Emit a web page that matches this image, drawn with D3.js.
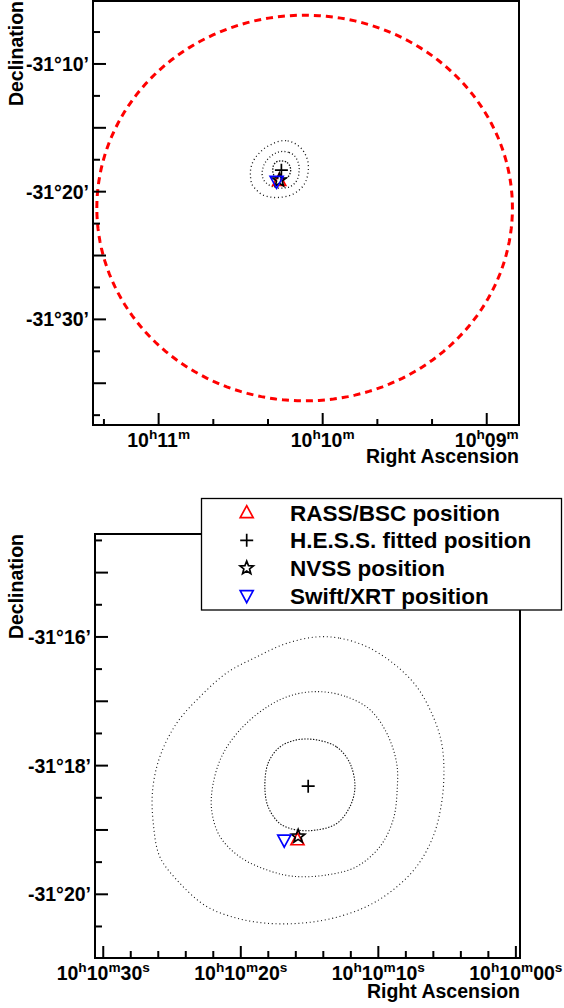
<!DOCTYPE html>
<html><head><meta charset="utf-8">
<script src="https://cdn.jsdelivr.net/npm/d3@7"></script>
<style>
body{margin:0;background:#fff}
svg{display:block}
text{font-family:"Liberation Sans",Arial,Helvetica,sans-serif;font-weight:700;fill:#000}
</style>
</head><body>
<svg id="chart" width="564" height="1008"></svg>
<script>
// ---------------- DATA ----------------
// RA in seconds after 10h00m00s, Dec in arcmin relative to -31°00'
const sourceNames = ["RASS/BSC position", "H.E.S.S. fitted position", "NVSS position", "Swift/XRT position"];
const sourceRA  = [615.88, 615.10, 615.83, 616.84];
const sourceDec = [-19.16, -18.32, -19.10, -19.15];

// significance contours (RA s, Dec arcmin)
const contourOuterRA  = [614.49, 612.79, 610.85, 608.92, 607.22, 606.01, 605.40, 605.23, 605.40, 606.01, 607.22, 608.92, 610.85, 613.28, 615.70, 618.12, 620.30, 622.48, 624.42, 625.88, 626.36, 626.41, 625.88, 624.66, 622.97, 621.03, 618.85, 616.67];
const contourOuterDec = [-16.00, -16.02, -16.15, -16.41, -16.77, -17.24, -17.65, -18.07, -18.58, -19.10, -19.57, -19.93, -20.19, -20.37, -20.45, -20.45, -20.37, -20.19, -19.83, -19.42, -18.90, -18.38, -17.86, -17.34, -16.93, -16.56, -16.31, -16.10];
const contourMiddleRA  = [614.25, 612.31, 610.61, 609.40, 608.67, 608.63, 608.92, 609.89, 611.58, 613.76, 616.19, 618.12, 620.06, 621.52, 622.12, 622.00, 621.28, 619.82, 617.88, 616.19];
const contourMiddleDec = [-16.85, -16.93, -17.13, -17.49, -17.96, -18.38, -18.84, -19.26, -19.57, -19.70, -19.72, -19.62, -19.42, -19.10, -18.69, -18.27, -17.81, -17.39, -17.06, -16.90];
const contourInnerRA  = [614.49, 613.03, 612.07, 611.70, 612.07, 613.03, 614.49, 615.94, 617.16, 618.01, 618.25, 618.01, 617.16, 615.94];
const contourInnerDec = [-17.60, -17.71, -17.96, -18.33, -18.64, -18.90, -19.00, -19.00, -18.90, -18.64, -18.33, -17.96, -17.71, -17.60];

// error circle: centre (RA s, Dec arcmin) and radii (RA s, Dec arcmin)
const circleCenter = [606.6, -21.28];
const circleRadius = [76.0, 15.1];

// axis ranges
const topRADomain  = [684.0, 528.2];
const topDecDomain = [-5.07, -38.27];
const botRADomain  = [630.6, 599.7];
const botDecDomain = [-14.40, -20.99];

// tick values & labels
const topRAMajor = [660, 600, 540];
const topRALabels = [["10","h","11","m"], ["10","h","10","m"], ["10","h","09","m"]];
const topRAMinorStep = 20;
const topDecMajorStep = 5, topDecMinorStep = 2.5;
const topDecLabelValues = [-10, -20, -30];
const topDecLabels = ["-31°10’", "-31°20’", "-31°30’"];

const botRAMajor = [630, 620, 610, 600];
const botRALabels = [["10","h","10","m","30","s"], ["10","h","10","m","20","s"], ["10","h","10","m","10","s"], ["10","h","10","m","00","s"]];
const botRAMinorStep = 2;
const botDecMajorStep = 1, botDecMinorStep = 0.5;
const botDecLabelValues = [-16, -18, -20];
const botDecLabels = ["-31°16’", "-31°18’", "-31°20’"];

const xTitle = "Right Ascension";
const yTitle = "Declination";

// ---------------- STYLE ----------------
const markerStyle = [
  {shape: "tri",  color: "#ff0000"},
  {shape: "plus", color: "#000000"},
  {shape: "star", color: "#000000"},
  {shape: "itri", color: "#0000ff"}
];
const drawOrder = [0, 1, 2, 3];

const svg = d3.select("#chart");

function markerPath(shape) {
  const p = d3.path();
  if (shape === "tri") {
    p.moveTo(0, -7.5); p.lineTo(6.5, 4.5); p.lineTo(-6.5, 4.5); p.closePath();
  } else if (shape === "itri") {
    p.moveTo(0, 7.5); p.lineTo(6.5, -4.5); p.lineTo(-6.5, -4.5); p.closePath();
  } else if (shape === "plus") {
    p.moveTo(-6.5, 0); p.lineTo(6.5, 0); p.moveTo(0, -6.5); p.lineTo(0, 6.5);
  } else if (shape === "star") {
    for (let i = 0; i < 10; i++) {
      const r = i % 2 === 0 ? 7 : 3;
      const a = -Math.PI / 2 + i * Math.PI / 5;
      const px = r * Math.cos(a), py = r * Math.sin(a);
      if (i === 0) p.moveTo(px, py); else p.lineTo(px, py);
    }
    p.closePath();
  }
  return p.toString();
}

function drawMarker(g, x, y, idx) {
  const st = markerStyle[idx];
  g.append("path")
    .attr("d", markerPath(st.shape))
    .attr("transform", `translate(${x},${y})`)
    .attr("fill", "none")
    .attr("stroke", st.color)
    .attr("stroke-width", 1.7)
    .attr("stroke-linejoin", "miter");
}

function superLabel(g, x, y, parts, size, anchor) {
  const t = g.append("text").attr("x", x).attr("y", y)
    .attr("text-anchor", anchor).attr("font-size", size);
  let up = false;
  parts.forEach((s, i) => {
    const isSup = i % 2 === 1;
    const ts = t.append("tspan").text(s);
    if (isSup) { ts.attr("font-size", size * 0.7).attr("dy", -size * 0.42); up = true; }
    else if (up) { ts.attr("dy", size * 0.42); up = false; }
  });
  return t;
}

function panel(opts) {
  const {x0, x1, y0, y1, raDomain, decDomain, raMajor, raLabels, raMinorStep,
         decMajorStep, decMinorStep, decLabelValues, decLabels, xLabelY, xTitleY,
         majorLenX, minorLenX, majorLenY, minorLenY, id, contourWidth} = opts;
  const x = d3.scaleLinear().domain(raDomain).range([x0, x1]);
  const y = d3.scaleLinear().domain(decDomain).range([y0, y1]);
  const g = svg.append("g");

  g.append("clipPath").attr("id", id).append("rect")
    .attr("x", x0).attr("y", y0).attr("width", x1 - x0).attr("height", y1 - y0);
  const plot = g.append("g").attr("clip-path", `url(#${id})`);

  // contours
  const line = d3.line().x(d => x(d[0])).y(d => y(d[1])).curve(d3.curveCatmullRomClosed.alpha(0.5));
  const contours = [
    {ra: contourOuterRA, dec: contourOuterDec, dash: "1,2.8"},
    {ra: contourMiddleRA, dec: contourMiddleDec, dash: "1,2.3"},
    {ra: contourInnerRA, dec: contourInnerDec, dash: "1.4,1.5"}
  ];
  contours.forEach(c => {
    plot.append("path")
      .attr("d", line(c.ra.map((r, i) => [r, c.dec[i]])))
      .attr("fill", "none").attr("stroke", "#111").attr("stroke-width", contourWidth)
      .attr("stroke-dasharray", c.dash);
  });

  // error circle
  const circPts = d3.range(0, 360, 2).map(a => {
    const t = a * Math.PI / 180;
    return [circleCenter[0] + circleRadius[0] * Math.cos(t), circleCenter[1] + circleRadius[1] * Math.sin(t)];
  });
  plot.append("path")
    .attr("d", d3.line().x(d => x(d[0])).y(d => y(d[1])).curve(d3.curveLinearClosed)(circPts))
    .attr("fill", "none").attr("stroke", "#ff0000").attr("stroke-width", 3)
    .attr("stroke-dasharray", "7,5");

  // markers
  drawOrder.forEach(i => drawMarker(plot, x(sourceRA[i]), y(sourceDec[i]), i));

  // frame
  g.append("rect").attr("x", x0).attr("y", y0).attr("width", x1 - x0).attr("height", y1 - y0)
    .attr("fill", "none").attr("stroke", "#000").attr("stroke-width", 2);

  // x ticks
  const [raHi, raLo] = raDomain;
  const raMinor = d3.range(Math.ceil(raLo / raMinorStep) * raMinorStep, raHi + 1e-6, raMinorStep)
    .filter(v => !raMajor.some(m => Math.abs(m - v) < 1e-6));
  raMinor.forEach(v => g.append("line").attr("x1", x(v)).attr("x2", x(v)).attr("y1", y1).attr("y2", y1 - minorLenX)
    .attr("stroke", "#000").attr("stroke-width", 2));
  raMajor.forEach(v => g.append("line").attr("x1", x(v)).attr("x2", x(v)).attr("y1", y1).attr("y2", y1 - majorLenX)
    .attr("stroke", "#000").attr("stroke-width", 2));
  raMajor.forEach((v, i) => superLabel(g, x(v), xLabelY, raLabels[i], 19.5, "middle"));

  // y ticks
  const [dTop, dBot] = decDomain;
  const decAll = d3.range(Math.ceil(dBot / decMinorStep) * decMinorStep, dTop + 1e-6, decMinorStep);
  decAll.forEach(v => {
    const isMajor = Math.abs(v / decMajorStep - Math.round(v / decMajorStep)) < 1e-6;
    const len = isMajor ? majorLenY : minorLenY;
    g.append("line").attr("x1", x0).attr("x2", x0 + len).attr("y1", y(v)).attr("y2", y(v))
      .attr("stroke", "#000").attr("stroke-width", 2);
  });
  decLabelValues.forEach((v, i) => g.append("text")
    .attr("x", x0 - 4).attr("y", y(v)).attr("dy", "0.36em")
    .attr("text-anchor", "end").attr("font-size", 19.5).text(decLabels[i]));

  // titles
  g.append("text").attr("x", x1).attr("y", xTitleY).attr("text-anchor", "end")
    .attr("font-size", 19.5).text(xTitle);
  g.append("text").attr("transform", `translate(23,${y0}) rotate(-90)`)
    .attr("text-anchor", "end").attr("font-size", 19.5).text(yTitle);
  return g;
}

panel({id: "clipTop", x0: 93, x1: 519, y0: 1, y1: 425,
  raDomain: topRADomain, decDomain: topDecDomain,
  raMajor: topRAMajor, raLabels: topRALabels, raMinorStep: topRAMinorStep,
  decMajorStep: topDecMajorStep, decMinorStep: topDecMinorStep,
  decLabelValues: topDecLabelValues, decLabels: topDecLabels,
  xLabelY: 447, xTitleY: 463, majorLenX: 12, minorLenX: 6, majorLenY: 13, minorLenY: 7,
  contourWidth: 1.3});

panel({id: "clipBot", x0: 95, x1: 520, y0: 534, y1: 958,
  raDomain: botRADomain, decDomain: botDecDomain,
  raMajor: botRAMajor, raLabels: botRALabels, raMinorStep: botRAMinorStep,
  decMajorStep: botDecMajorStep, decMinorStep: botDecMinorStep,
  decLabelValues: botDecLabelValues, decLabels: botDecLabels,
  xLabelY: 980, xTitleY: 998, majorLenX: 12, minorLenX: 7, majorLenY: 13, minorLenY: 7,
  contourWidth: 1.1});

// legend
const lg = svg.append("g");
lg.append("rect").attr("x", 201.5).attr("y", 498.5).attr("width", 360).attr("height", 111.5)
  .attr("fill", "#fff").attr("stroke", "#000").attr("stroke-width", 1.3);
const rowY = d3.scalePoint().domain(d3.range(sourceNames.length)).range([512.7, 595.7]);
sourceNames.forEach((n, i) => {
  drawMarker(lg, 246.7, rowY(i) + (markerStyle[i].shape === "tri" ? 0.5 : markerStyle[i].shape === "itri" ? -0.5 : 0), i);
  lg.append("text").attr("x", 290).attr("y", rowY(i)).attr("dy", "0.36em")
    .attr("font-size", 22.5).text(n);
});
</script>
</body></html>
